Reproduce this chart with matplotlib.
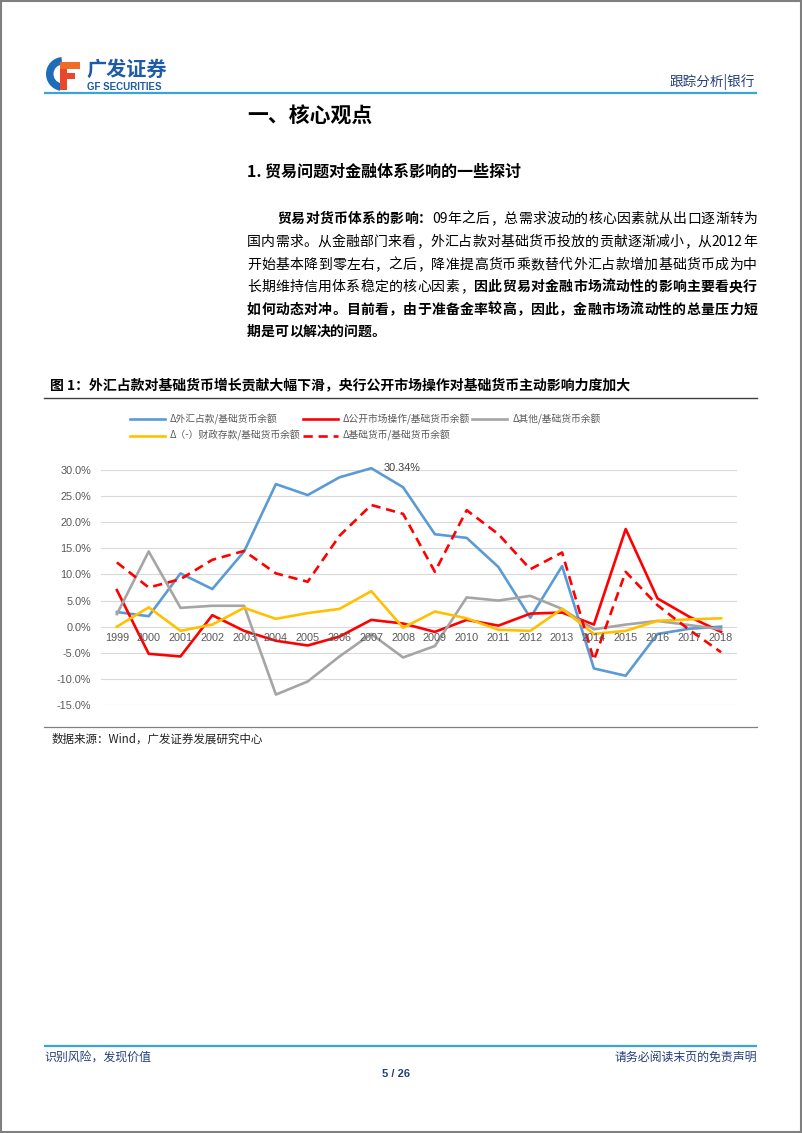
import re
import numpy as np
import matplotlib
matplotlib.use("Agg")
import matplotlib.pyplot as plt
from matplotlib.patches import Wedge, Rectangle

plt.rcParams['font.family'] = ['Noto Sans CJK SC', 'DejaVu Sans']

W, H = 802, 1133

# ---- data (percent) ----
years = [str(y) for y in range(1999, 2019)]
fx_share = [2.8, 2.0, 10.2, 7.2, 14.4, 27.3, 25.2, 28.6, 30.34, 26.7,
            17.7, 17.0, 11.4, 1.7, 11.6, -8.0, -9.4, -1.4, -0.4, 0.0]
omo_share = [7.0, -5.2, -5.7, 2.2, -0.8, -2.7, -3.6, -1.9, 1.3, 0.6,
             -1.0, 1.3, 0.2, 2.5, 2.7, 0.4, 18.7, 5.4, 1.9, -1.0]
other_share = [2.4, 14.4, 3.6, 4.0, 4.0, -13.0, -10.5, -5.7, -1.4, -5.9,
               -3.7, 5.6, 5.0, 5.9, 3.4, -0.5, 0.4, 1.1, 0.3, -0.5]
fiscal_share = [0.0, 3.7, -0.8, 0.4, 3.6, 1.5, 2.6, 3.4, 6.8, -0.2,
                2.9, 1.6, -0.6, -0.8, 3.4, -1.4, -0.8, 1.1, 1.4, 1.6]
base_share = [12.3, 7.5, 9.1, 12.8, 14.5, 10.2, 8.6, 17.4, 23.3, 21.6,
              10.5, 22.3, 17.7, 11.0, 14.2, -6.4, 10.5, 4.1, -0.6, -4.9]

series_names = ['Δ外汇占款/基础货币余额', 'Δ公开市场操作/基础货币余额', 'Δ其他/基础货币余额',
                'Δ（-）财政存款/基础货币余额', 'Δ基础货币/基础货币余额']

paragraph = [
    [("贸易对货币体系的影响：", True), ("09年之后，总需求波动的核心因素就从出口逐渐转为", False)],
    [("国内需求。从金融部门来看，外汇占款对基础货币投放的贡献逐渐减小，从2012年", False)],
    [("开始基本降到零左右，之后，降准提高货币乘数替代外汇占款增加基础货币成为中", False)],
    [("长期维持信用体系稳定的核心因素，", False), ("因此贸易对金融市场流动性的影响主要看央行", True)],
    [("如何动态对冲。目前看，由于准备金率较高，因此，金融市场流动性的总量压力短", True)],
    [("期是可以解决的问题。", True)],
]

fig = plt.figure(figsize=(W / 100, H / 100), dpi=100)
fig.patch.set_facecolor('white')

# page layer in pixel coordinates
bg = fig.add_axes([0, 0, 1, 1], zorder=0)
bg.set_xlim(0, W)
bg.set_ylim(H, 0)
bg.axis('off')

# page border
bg.add_patch(Rectangle((1, 1), W - 2.5, H - 2.5, fill=False, edgecolor='#7f7f7f', lw=1.5))

navy = '#24407a'
rule_blue = '#3aa3da'

# logo
bg.add_patch(Wedge((63, 74), 17, 100, 265, width=7.5, facecolor='#1f6cb8', edgecolor='none'))
bg.add_patch(Rectangle((60, 62), 6.5, 28, facecolor='#e8472b'))
bg.add_patch(Rectangle((60, 62), 20, 6.5, facecolor='#f06a28'))
bg.add_patch(Rectangle((60, 73), 15, 5.5, facecolor='#e8472b'))
bg.text(86, 69, '广发证券', fontsize=14.5, fontweight='heavy', color='#1d5aa8', va='center', ha='left')
bg.text(87, 86.5, 'GF SECURITIES', fontsize=7, fontweight='bold', color='#1d5aa8',
        va='center', ha='left', family=['Liberation Sans', 'DejaVu Sans'])
bg.text(755, 82, '跟踪分析|银行', fontsize=9.8, color=navy, ha='right', va='center')
bg.plot([44, 757], [92.5, 92.5], color=rule_blue, lw=1.6, solid_capstyle='butt')

# headings
bg.text(247, 116, '一、核心观点', fontsize=15, fontweight='bold', va='center', ha='left')
bg.text(247, 172, '1. 贸易问题对金融体系影响的一些探讨', fontsize=11.5, fontweight='bold',
        va='center', ha='left')

# justified paragraph
renderer = fig.canvas.get_renderer()


def put_line(segs, x0, x1, y, justify=True, size=10):
    tokens = []
    for txt, bold in segs:
        for tok in re.findall(r'[A-Za-z0-9]+|.', txt):
            tokens.append((tok, bold))
    objs = []
    widths = []
    for tok, bold in tokens:
        t = bg.text(0, y, tok, fontsize=size, fontweight='bold' if bold else 'normal',
                    va='center', ha='left', color='black')
        objs.append(t)
        widths.append(t.get_window_extent(renderer).width)
    gap = (x1 - x0 - sum(widths)) / (len(tokens) - 1) if justify else 0.0
    x = x0
    for t, w in zip(objs, widths):
        t.set_x(x)
        x += w + gap


line_y = [219, 242, 265, 287, 310, 332]
for i, segs in enumerate(paragraph):
    start = 277 if i == 0 else 247
    put_line(segs, start, 757, line_y[i], justify=(i < len(paragraph) - 1))

# chart title
bg.text(50, 386, '图 1：外汇占款对基础货币增长贡献大幅下滑，央行公开市场操作对基础货币主动影响力度加大',
        fontsize=10, fontweight='bold', va='center', ha='left')
bg.plot([44, 757], [398, 398], color='#404040', lw=1.0)
bg.plot([44, 757], [727, 727], color='#808080', lw=0.9)
bg.text(52, 739, '数据来源：Wind，广发证券发展研究中心', fontsize=8.3, va='center', ha='left', color='#222222')

# footer
bg.plot([44, 757], [1046, 1046], color=rule_blue, lw=1.6, solid_capstyle='butt')
bg.text(44, 1057, '识别风险，发现价值', fontsize=8.6, color=navy, va='center', ha='left')
bg.text(757, 1057, '请务必阅读末页的免责声明', fontsize=8.6, color=navy, va='center', ha='right')
bg.text(396, 1074, '5 / 26', fontsize=8, fontweight='bold', color=navy, va='center', ha='center',
        family=['Liberation Sans', 'DejaVu Sans'])

# ---- chart ----
ax = fig.add_axes([101 / W, 1 - 705 / H, 636 / W, 235 / H], zorder=2)
ax.patch.set_alpha(0)
x = np.arange(len(years))
lw = 1.9
ax.plot(x, fx_share, color='#5b9bd5', lw=lw, label=series_names[0])
ax.plot(x, omo_share, color='#ff0000', lw=lw, label=series_names[1])
ax.plot(x, other_share, color='#a5a5a5', lw=lw, label=series_names[2])
ax.plot(x, fiscal_share, color='#ffc000', lw=lw, label=series_names[3])
ax.plot(x, base_share, color='#ff0000', lw=lw, ls=(0, (3.5, 2.2)), label=series_names[4])

ax.set_xlim(-0.5, len(years) - 0.5)
ax.set_ylim(-15, 30)
ax.set_yticks(np.arange(-15, 31, 5))
ax.set_yticklabels([f'{v:.1f}%' for v in np.arange(-15, 31, 5)],
                   family=['Liberation Sans', 'DejaVu Sans'])
ax.tick_params(axis='y', length=0, pad=7, labelsize=7.8, labelcolor='#595959')
ax.set_xticks([])
ax.grid(axis='y', color='#d9d9d9', lw=0.8)
ax.set_axisbelow(True)
for s in ax.spines.values():
    s.set_visible(False)

for i, yr in enumerate(years):
    ax.annotate(yr, (i, 0), xytext=(0, -11), textcoords='offset pixels', ha='center', va='center',
                fontsize=7.8, color='#595959', family=['Liberation Sans', 'DejaVu Sans'])

peak = int(np.argmax(fx_share))
ax.annotate(f'{fx_share[peak]:.2f}%', (peak, fx_share[peak]), xytext=(12, 0), textcoords='offset pixels',
            ha='left', va='center', fontsize=7.8, color='#404040',
            family=['Liberation Sans', 'DejaVu Sans'], annotation_clip=False)
for ln in ax.get_lines():
    ln.set_clip_on(False)

# legend (column-major order: blue, yellow | red, red dashed | gray)
lines = ax.get_lines()
order = [0, 3, 1, 4, 2]
leg = fig.legend([lines[k] for k in order], [series_names[k] for k in order],
                 loc='upper left', bbox_to_anchor=(130 / W, 1 - 414 / H), ncol=3, frameon=False,
                 fontsize=7, handlelength=3.6, handletextpad=0.5, columnspacing=0.25,
                 labelspacing=0.55, borderpad=0, borderaxespad=0)
for t in leg.get_texts():
    t.set_color('#595959')

fig.savefig('out.png', dpi=100)
